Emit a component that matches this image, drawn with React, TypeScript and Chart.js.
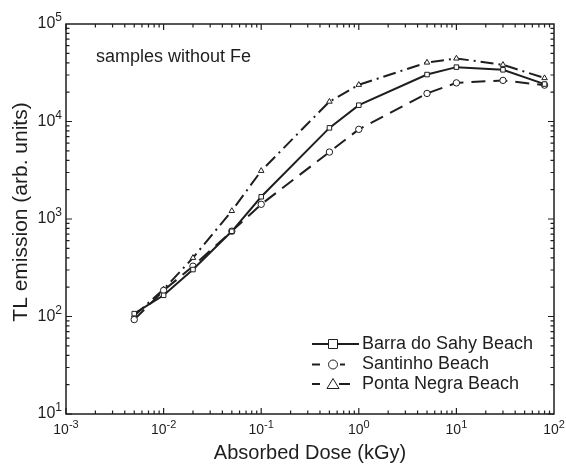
import { useEffect, useRef } from 'react'
import { Chart, registerables } from 'chart.js'

Chart.register(...registerables)

// absorbed dose (kGy) and TL emission (arb. units)
const DOSE = [0.005, 0.01, 0.02, 0.05, 0.1, 0.5, 1, 5, 10, 30, 80]
const BARRA = [107, 165, 303, 748, 1690, 8600, 14700, 30300, 36100, 33900, 24200]
const SANTINHO = [93, 185, 328, 750, 1415, 4860, 8310, 19400, 24900, 26400, 23600]
const PONTA = [102, 190, 400, 1210, 3120, 16000, 23800, 40300, 44300, 38200, 27900]

const SERIES_NAMES = ['Barra do Sahy Beach', 'Santinho Beach', 'Ponta Negra Beach']
const X_EXPONENTS = [-3, -2, -1, 0, 1, 2]
const Y_EXPONENTS = [1, 2, 3, 4, 5]

const INK = '#1e1e1e'
const FONT = '"Liberation Sans", Arial, sans-serif'

function toPoints(values: number[]) {
  return values.map((v, i) => ({ x: DOSE[i], y: v }))
}

// power-of-ten label: "10" with a raised exponent
function drawPower(
  ctx: CanvasRenderingContext2D,
  exp: number,
  x: number,
  y: number,
  baseSize: number,
  expSize: number,
  align: 'center' | 'right'
) {
  const base = '10'
  const sup = String(exp)
  ctx.font = `${baseSize}px ${FONT}`
  const wb = ctx.measureText(base).width
  ctx.font = `${expSize}px ${FONT}`
  const we = ctx.measureText(sup).width
  const total = wb + we
  const left = align === 'center' ? x - total / 2 : x - total
  ctx.textAlign = 'left'
  ctx.textBaseline = 'middle'
  ctx.font = `${baseSize}px ${FONT}`
  ctx.fillText(base, left, y)
  ctx.font = `${expSize}px ${FONT}`
  ctx.fillText(sup, left + wb, y - baseSize * 0.38)
}

const framePlugin = {
  id: 'frame',
  afterDraw(chart: any) {
    const { ctx, chartArea: a, scales } = chart
    const xs = scales.x
    const ys = scales.y
    ctx.save()
    ctx.strokeStyle = INK
    ctx.fillStyle = INK
    ctx.lineWidth = 1.5
    ctx.strokeRect(a.left, a.top, a.right - a.left, a.bottom - a.top)

    // inward tick marks on all four sides
    ctx.lineWidth = 1.2
    ctx.beginPath()
    for (let d = X_EXPONENTS[0]; d < X_EXPONENTS[X_EXPONENTS.length - 1]; d++) {
      for (let m = 1; m <= 9; m++) {
        const px = xs.getPixelForValue(m * Math.pow(10, d))
        const len = m === 1 ? 6 : 3.5
        ctx.moveTo(px, a.bottom); ctx.lineTo(px, a.bottom - len)
        ctx.moveTo(px, a.top); ctx.lineTo(px, a.top + len)
      }
    }
    for (let d = Y_EXPONENTS[0]; d < Y_EXPONENTS[Y_EXPONENTS.length - 1]; d++) {
      for (let m = 1; m <= 9; m++) {
        const py = ys.getPixelForValue(m * Math.pow(10, d))
        const len = m === 1 ? 6 : 3.5
        ctx.moveTo(a.left, py); ctx.lineTo(a.left + len, py)
        ctx.moveTo(a.right, py); ctx.lineTo(a.right - len, py)
      }
    }
    ctx.stroke()

    // tick labels
    X_EXPONENTS.forEach(e => {
      drawPower(ctx, e, xs.getPixelForValue(Math.pow(10, e)), a.bottom + 16, 14, 11, 'center')
    })
    Y_EXPONENTS.forEach(e => {
      drawPower(ctx, e, a.left - 4, ys.getPixelForValue(Math.pow(10, e)), 16, 12, 'right')
    })

    // axis titles
    ctx.font = `20px ${FONT}`
    ctx.textAlign = 'center'
    ctx.textBaseline = 'middle'
    ctx.fillText('Absorbed Dose (kGy)', (a.left + a.right) / 2, 453)
    ctx.save()
    ctx.translate(21, 212)
    ctx.rotate(-Math.PI / 2)
    ctx.font = `21px ${FONT}`
    ctx.fillText('TL emission (arb. units)', 0, 0)
    ctx.restore()

    // annotation
    ctx.font = `18px ${FONT}`
    ctx.textAlign = 'left'
    ctx.fillText('samples without Fe', 96, 57)

    // legend: line sample with the marker in its middle
    const rows = [344, 364.5, 384]
    chart.data.datasets.forEach((ds: any, i: number) => {
      const y = rows[i]
      ctx.lineWidth = 2
      ctx.strokeStyle = INK
      ctx.setLineDash([])
      ctx.beginPath()
      if (i === 0) {
        ctx.moveTo(312, y); ctx.lineTo(359, y)
      } else if (i === 1) {
        ctx.moveTo(312, y); ctx.lineTo(320, y)
        ctx.moveTo(340, y); ctx.lineTo(345, y)
      } else {
        ctx.moveTo(312, y); ctx.lineTo(320, y)
        ctx.moveTo(339, y); ctx.lineTo(350, y)
      }
      ctx.stroke()
      ctx.lineWidth = 1
      ctx.fillStyle = '#fff'
      ctx.beginPath()
      const cx = 333
      const r = 4.5
      if (ds.pointStyle === 'rect') {
        ctx.rect(cx - r, y - r, 2 * r, 2 * r)
      } else if (ds.pointStyle === 'circle') {
        ctx.arc(cx, y, r, 0, Math.PI * 2)
      } else {
        ctx.moveTo(cx, y - r - 1)
        ctx.lineTo(cx + r + 1.5, y + r)
        ctx.lineTo(cx - r - 1.5, y + r)
        ctx.closePath()
      }
      ctx.fill()
      ctx.stroke()
      ctx.fillStyle = INK
      ctx.font = `18px ${FONT}`
      ctx.textAlign = 'left'
      ctx.textBaseline = 'middle'
      ctx.fillText(ds.label, 362, y)
    })
    ctx.restore()
  }
}

export default function App() {
  const canvasRef = useRef<HTMLCanvasElement>(null)

  useEffect(() => {
    document.body.style.margin = '0'
    if (!canvasRef.current) return
    const common = {
      borderColor: INK,
      borderWidth: 2,
      pointRadius: 3.2,
      pointBorderWidth: 1,
      pointBorderColor: INK,
      pointBackgroundColor: '#fff',
      tension: 0,
      fill: false
    }
    const chart = new Chart(canvasRef.current, {
      type: 'line',
      data: {
        datasets: [
          { ...common, label: SERIES_NAMES[0], data: toPoints(BARRA), pointStyle: 'rect' },
          { ...common, label: SERIES_NAMES[1], data: toPoints(SANTINHO), pointStyle: 'circle', borderDash: [14, 8] },
          { ...common, label: SERIES_NAMES[2], data: toPoints(PONTA), pointStyle: 'triangle', borderDash: [13, 5, 2, 5] }
        ] as any
      },
      options: {
        animation: false,
        responsive: true,
        maintainAspectRatio: false,
        layout: { padding: { left: 66, top: 24, right: 12, bottom: 52 } },
        plugins: {
          legend: { display: false },
          tooltip: { enabled: false }
        },
        scales: {
          x: { type: 'logarithmic', min: 1e-3, max: 1e2, display: false },
          y: { type: 'logarithmic', min: 10, max: 1e5, display: false }
        }
      },
      plugins: [framePlugin]
    })
    return () => chart.destroy()
  }, [])

  return (
    <div style={{ width: 566, height: 466, position: 'relative', background: '#fff' }}>
      <canvas ref={canvasRef}></canvas>
    </div>
  )
}
